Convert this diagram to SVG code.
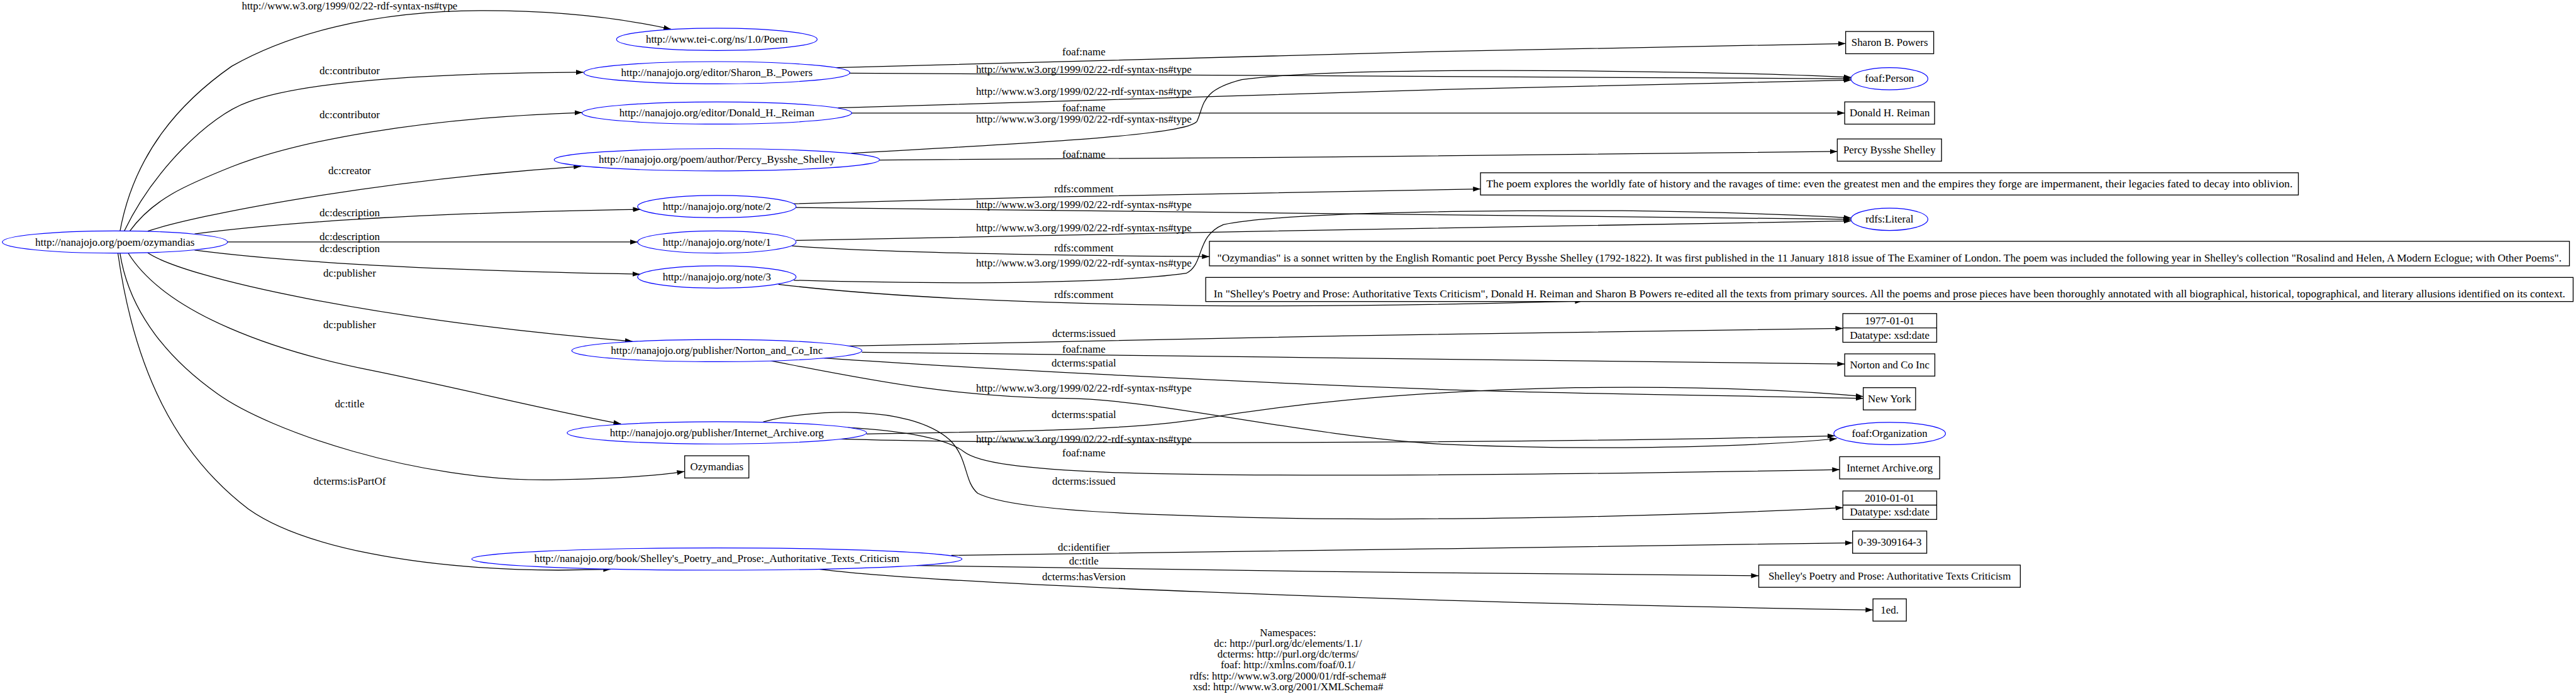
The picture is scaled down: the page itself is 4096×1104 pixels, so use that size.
<svg xmlns="http://www.w3.org/2000/svg" width="4096" height="1104" viewBox="0 0 4096 1104">
<style>
text{font-family:"Liberation Serif","Times New Roman",serif;font-size:23px;fill:#000;text-anchor:middle}
.n ellipse{fill:#fff;stroke:#0000ff;stroke-width:1.6}
.b rect{fill:#fff;stroke:#000;stroke-width:1.8}
.b line{stroke:#000;stroke-width:1.8}
#edges path{fill:none;stroke:#000;stroke-width:1.7;marker-end:url(#ah)}
</style>
<defs>
<marker id="ah" markerUnits="userSpaceOnUse" markerWidth="18" markerHeight="12" refX="16" refY="6" orient="auto"><path d="M0,0.6 L16,6 L0,11.4 z" fill="#000"/></marker>
</defs>
<rect width="4096" height="1104" fill="#fff"/>
<g transform="scale(0.7368)">
<g id="edges">
<path d="M259,499 C290,330 390,220 500,143 C620,75 800,23 1045,23 C1200,23 1330,37 1448,63"/>
<path d="M268,499 C330,370 450,250 536,220 C650,178 900,158 1259,156"/>
<path d="M280,499 C330,430 400,400 500,360 C640,305 900,255 1256,243"/>
<path d="M319,499 C420,465 800,390 1254,359"/>
<path d="M420,505 C650,475 1000,458 1382,452"/>
<path d="M491,522.5 L1376,522.5"/>
<path d="M420,540 C650,570 1000,585 1381,592"/>
<path d="M319,546 C400,600 800,690 1365,737"/>
<path d="M277,547 C360,680 600,760 803,800 C1000,840 1200,890 1340,915"/>
<path d="M259,547 C280,680 370,780 469,850 C580,930 900,1040 1190,1036 C1300,1034 1400,1030 1477,1018"/>
<path d="M254.5,547 C290,800 380,980 536,1099 C650,1180 900,1230 1205,1231 L1318,1229"/>
<path d="M1804,146 C2200,133 3300,104 3983,94"/>
<path d="M1833,158 L3994,170"/>
<path d="M1808,233 C2300,215 3300,186 3995,173"/>
<path d="M1838,244 L3981,244"/>
<path d="M1837,331 C2300,305 2560,290 2583,262 C2600,225 2590,195 2680,172 C2800,155 3100,150 3400,153 C3700,156 3900,162 3995,167"/>
<path d="M1898,345.5 C2500,343 3400,335 3965,327"/>
<path d="M1713,440 C2200,425 2800,413 3195,408"/>
<path d="M1718,448 C2400,457 3400,466 3994,473.5"/>
<path d="M1718,519 C2400,505 3400,486 3995,477"/>
<path d="M1709,531 C1900,545 2200,551 2610,554"/>
<path d="M1713,605 C2100,616 2420,610 2560,590 C2600,570 2580,510 2640,485 C2750,462 3100,453 3500,455 C3700,457 3900,465 3995,470.5"/>
<path d="M1680,614 C1900,640 2200,655 2600,660 C2900,662 3200,656 3415,650"/>
<path d="M1833,747 C2400,733 3400,715 3977,709"/>
<path d="M1860,760.6 C2500,767 3400,780 3981,786"/>
<path d="M1779,773 C2100,795 2600,822 3112,841 C3400,851 3800,855 4021,860"/>
<path d="M1663,779 C1850,815 2050,858 2300,860 C2500,862 2800,940 3112,959 C3400,972 3750,968 3964,947"/>
<path d="M1870,937 C2300,930 2450,925 2581,906 C2750,878 3000,845 3400,837 C3700,833 3900,845 4021,856"/>
<path d="M1812,948 C2300,962 3400,955 3960,941"/>
<path d="M1829,923 C1950,930 2040,945 2080,975 C2110,998 2200,1012 2400,1020 C2700,1030 3300,1026 3970,1014"/>
<path d="M1647,911 C1740,885 1960,870 2050,950 C2090,990 2080,1040 2110,1065 C2160,1090 2300,1105 2532,1112 C2800,1122 3000,1123 3400,1116 C3600,1112 3800,1105 3977,1096"/>
<path d="M2053,1199 C2600,1193 3400,1180 3998,1172"/>
<path d="M1978,1221 C2500,1230 3300,1241 3795,1243"/>
<path d="M1763,1228 C2000,1260 3000,1300 4042,1317"/>
</g>
<g id="edge-labels">
<text x="754.5" y="21">http://www.w3.org/1999/02/22-rdf-syntax-ns#type</text>
<text x="754.5" y="160">dc:contributor</text>
<text x="754.5" y="255">dc:contributor</text>
<text x="754.5" y="376">dc:creator</text>
<text x="754.5" y="467">dc:description</text>
<text x="754.5" y="519">dc:description</text>
<text x="754.5" y="544">dc:description</text>
<text x="754.5" y="597">dc:publisher</text>
<text x="754.5" y="709">dc:publisher</text>
<text x="754.5" y="879">dc:title</text>
<text x="754.5" y="1047">dcterms:isPartOf</text>
<text x="2339" y="120">foaf:name</text>
<text x="2339" y="157">http://www.w3.org/1999/02/22-rdf-syntax-ns#type</text>
<text x="2339" y="205">http://www.w3.org/1999/02/22-rdf-syntax-ns#type</text>
<text x="2339" y="240">foaf:name</text>
<text x="2339" y="265">http://www.w3.org/1999/02/22-rdf-syntax-ns#type</text>
<text x="2339" y="340">foaf:name</text>
<text x="2339" y="415">rdfs:comment</text>
<text x="2339" y="449">http://www.w3.org/1999/02/22-rdf-syntax-ns#type</text>
<text x="2339" y="500">http://www.w3.org/1999/02/22-rdf-syntax-ns#type</text>
<text x="2339" y="543">rdfs:comment</text>
<text x="2339" y="575">http://www.w3.org/1999/02/22-rdf-syntax-ns#type</text>
<text x="2339" y="644">rdfs:comment</text>
<text x="2339" y="727">dcterms:issued</text>
<text x="2339" y="761">foaf:name</text>
<text x="2339" y="791">dcterms:spatial</text>
<text x="2339" y="845">http://www.w3.org/1999/02/22-rdf-syntax-ns#type</text>
<text x="2339" y="903">dcterms:spatial</text>
<text x="2339" y="955">http://www.w3.org/1999/02/22-rdf-syntax-ns#type</text>
<text x="2339" y="985">foaf:name</text>
<text x="2339" y="1046">dcterms:issued</text>
<text x="2339" y="1189">dc:identifier</text>
<text x="2339" y="1219">dc:title</text>
<text x="2339" y="1253">dcterms:hasVersion</text>
</g>
<g id="n_ozymandias" class="n"><ellipse cx="248" cy="522.5" rx="243" ry="24"/><text x="248" y="530">http://nanajojo.org/poem/ozymandias</text></g>
<g id="n_poem" class="n"><ellipse cx="1547" cy="85" rx="216.5" ry="24"/><text x="1547" y="92">http://www.tei-c.org/ns/1.0/Poem</text></g>
<g id="n_sharon" class="n"><ellipse cx="1547" cy="157" rx="287" ry="24"/><text x="1547" y="164">http://nanajojo.org/editor/Sharon_B._Powers</text></g>
<g id="n_donald" class="n"><ellipse cx="1547" cy="244" rx="291" ry="24"/><text x="1547" y="251">http://nanajojo.org/editor/Donald_H._Reiman</text></g>
<g id="n_percy" class="n"><ellipse cx="1547" cy="345" rx="351" ry="24"/><text x="1547" y="352">http://nanajojo.org/poem/author/Percy_Bysshe_Shelley</text></g>
<g id="n_note2" class="n"><ellipse cx="1547" cy="446" rx="171" ry="24"/><text x="1547" y="453">http://nanajojo.org/note/2</text></g>
<g id="n_note1" class="n"><ellipse cx="1547" cy="522.5" rx="171" ry="24"/><text x="1547" y="530">http://nanajojo.org/note/1</text></g>
<g id="n_note3" class="n"><ellipse cx="1547" cy="598" rx="171" ry="24"/><text x="1547" y="605">http://nanajojo.org/note/3</text></g>
<g id="n_norton" class="n"><ellipse cx="1547" cy="757" rx="313" ry="24"/><text x="1547" y="764">http://nanajojo.org/publisher/Norton_and_Co_Inc</text></g>
<g id="n_ia" class="n"><ellipse cx="1547" cy="934.5" rx="323" ry="24"/><text x="1547" y="942">http://nanajojo.org/publisher/Internet_Archive.org</text></g>
<g id="n_title" class="b"><rect x="1477.6" y="984" width="138.5" height="48"/><text x="1547" y="1015">Ozymandias</text></g>
<g id="n_book" class="n"><ellipse cx="1547" cy="1207" rx="529" ry="24"/><text x="1547" y="1214">http://nanajojo.org/book/Shelley's_Poetry_and_Prose:_Authoritative_Texts_Criticism</text></g>
<g id="n_sharon_name" class="b"><rect x="3983" y="68" width="190" height="48"/><text x="4078" y="99">Sharon B. Powers</text></g>
<g id="n_person" class="n"><ellipse cx="4077.5" cy="170" rx="83" ry="24"/><text x="4077.5" y="177">foaf:Person</text></g>
<g id="n_donald_name" class="b"><rect x="3981" y="220" width="194" height="48"/><text x="4078" y="251.5">Donald H. Reiman</text></g>
<g id="n_percy_name" class="b"><rect x="3965" y="300" width="225" height="48"/><text x="4077.5" y="331.5">Percy Bysshe Shelley</text></g>
<g id="n_comment2" class="b"><rect x="3195" y="373" width="1765" height="48"/><text x="4077.5" y="404" textLength="1740" lengthAdjust="spacingAndGlyphs">The poem explores the worldly fate of history and the ravages of time: even the greatest men and the empires they forge are impermanent, their legacies fated to decay into oblivion.</text></g>
<g id="n_literal" class="n"><ellipse cx="4077.5" cy="473.5" rx="83" ry="24"/><text x="4077.5" y="481">rdfs:Literal</text></g>
<g id="n_comment1" class="b"><rect x="2610" y="521" width="2935" height="53"/><text x="4077.5" y="565" textLength="2901" lengthAdjust="spacingAndGlyphs">"Ozymandias" is a sonnet written by the English Romantic poet Percy Bysshe Shelley (1792-1822). It was first published in the 11 January 1818 issue of The Examiner of London. The poem was included the following year in Shelley's collection "Rosalind and Helen, A Modern Eclogue; with Other Poems".</text></g>
<g id="n_comment3" class="b"><rect x="2602" y="599" width="2951" height="52"/><text x="4077.5" y="642" textLength="2917" lengthAdjust="spacingAndGlyphs">In "Shelley's Poetry and Prose: Authoritative Texts Criticism", Donald H. Reiman and Sharon B Powers re-edited all the texts from primary sources. All the poems and prose pieces have been thoroughly annotated with all biographical, historical, topographical, and literary allusions identified on its context.</text></g>
<g id="n_date1977" class="b"><rect x="3977" y="677" width="202.5" height="62"/><line x1="3977" y1="708" x2="4179.5" y2="708"/><text x="4078" y="700">1977-01-01</text><text x="4078" y="731">Datatype: xsd:date</text></g>
<g id="n_norton_name" class="b"><rect x="3981" y="764" width="194.5" height="48"/><text x="4078" y="795">Norton and Co Inc</text></g>
<g id="n_newyork" class="b"><rect x="4021" y="837" width="113" height="48"/><text x="4077.5" y="868">New York</text></g>
<g id="n_org" class="n"><ellipse cx="4078" cy="936" rx="120.5" ry="24"/><text x="4078" y="943">foaf:Organization</text></g>
<g id="n_ia_name" class="b"><rect x="3970" y="986" width="216" height="48"/><text x="4078" y="1018">Internet Archive.org</text></g>
<g id="n_date2010" class="b"><rect x="3977" y="1060" width="202.5" height="61.5"/><line x1="3977" y1="1090.5" x2="4179.5" y2="1090.5"/><text x="4078" y="1083">2010-01-01</text><text x="4078" y="1113">Datatype: xsd:date</text></g>
<g id="n_isbn" class="b"><rect x="3998" y="1146.5" width="160" height="48"/><text x="4078" y="1178">0-39-309164-3</text></g>
<g id="n_booktitle" class="b"><rect x="3795.5" y="1220" width="564.5" height="48"/><text x="4078" y="1251">Shelley's Poetry and Prose: Authoritative Texts Criticism</text></g>
<g id="n_1ed" class="b"><rect x="4042" y="1293" width="72" height="48"/><text x="4078" y="1324">1ed.</text></g>
<g id="namespaces">
<text x="2779.5" y="1373">Namespaces:</text>
<text x="2779.5" y="1396">dc: http://purl.org/dc/elements/1.1/</text>
<text x="2779.5" y="1420">dcterms: http://purl.org/dc/terms/</text>
<text x="2779.5" y="1443">foaf: http://xmlns.com/foaf/0.1/</text>
<text x="2779.5" y="1467">rdfs: http://www.w3.org/2000/01/rdf-schema#</text>
<text x="2779.5" y="1490">xsd: http://www.w3.org/2001/XMLSchema#</text>
</g>
</g>
</svg>
